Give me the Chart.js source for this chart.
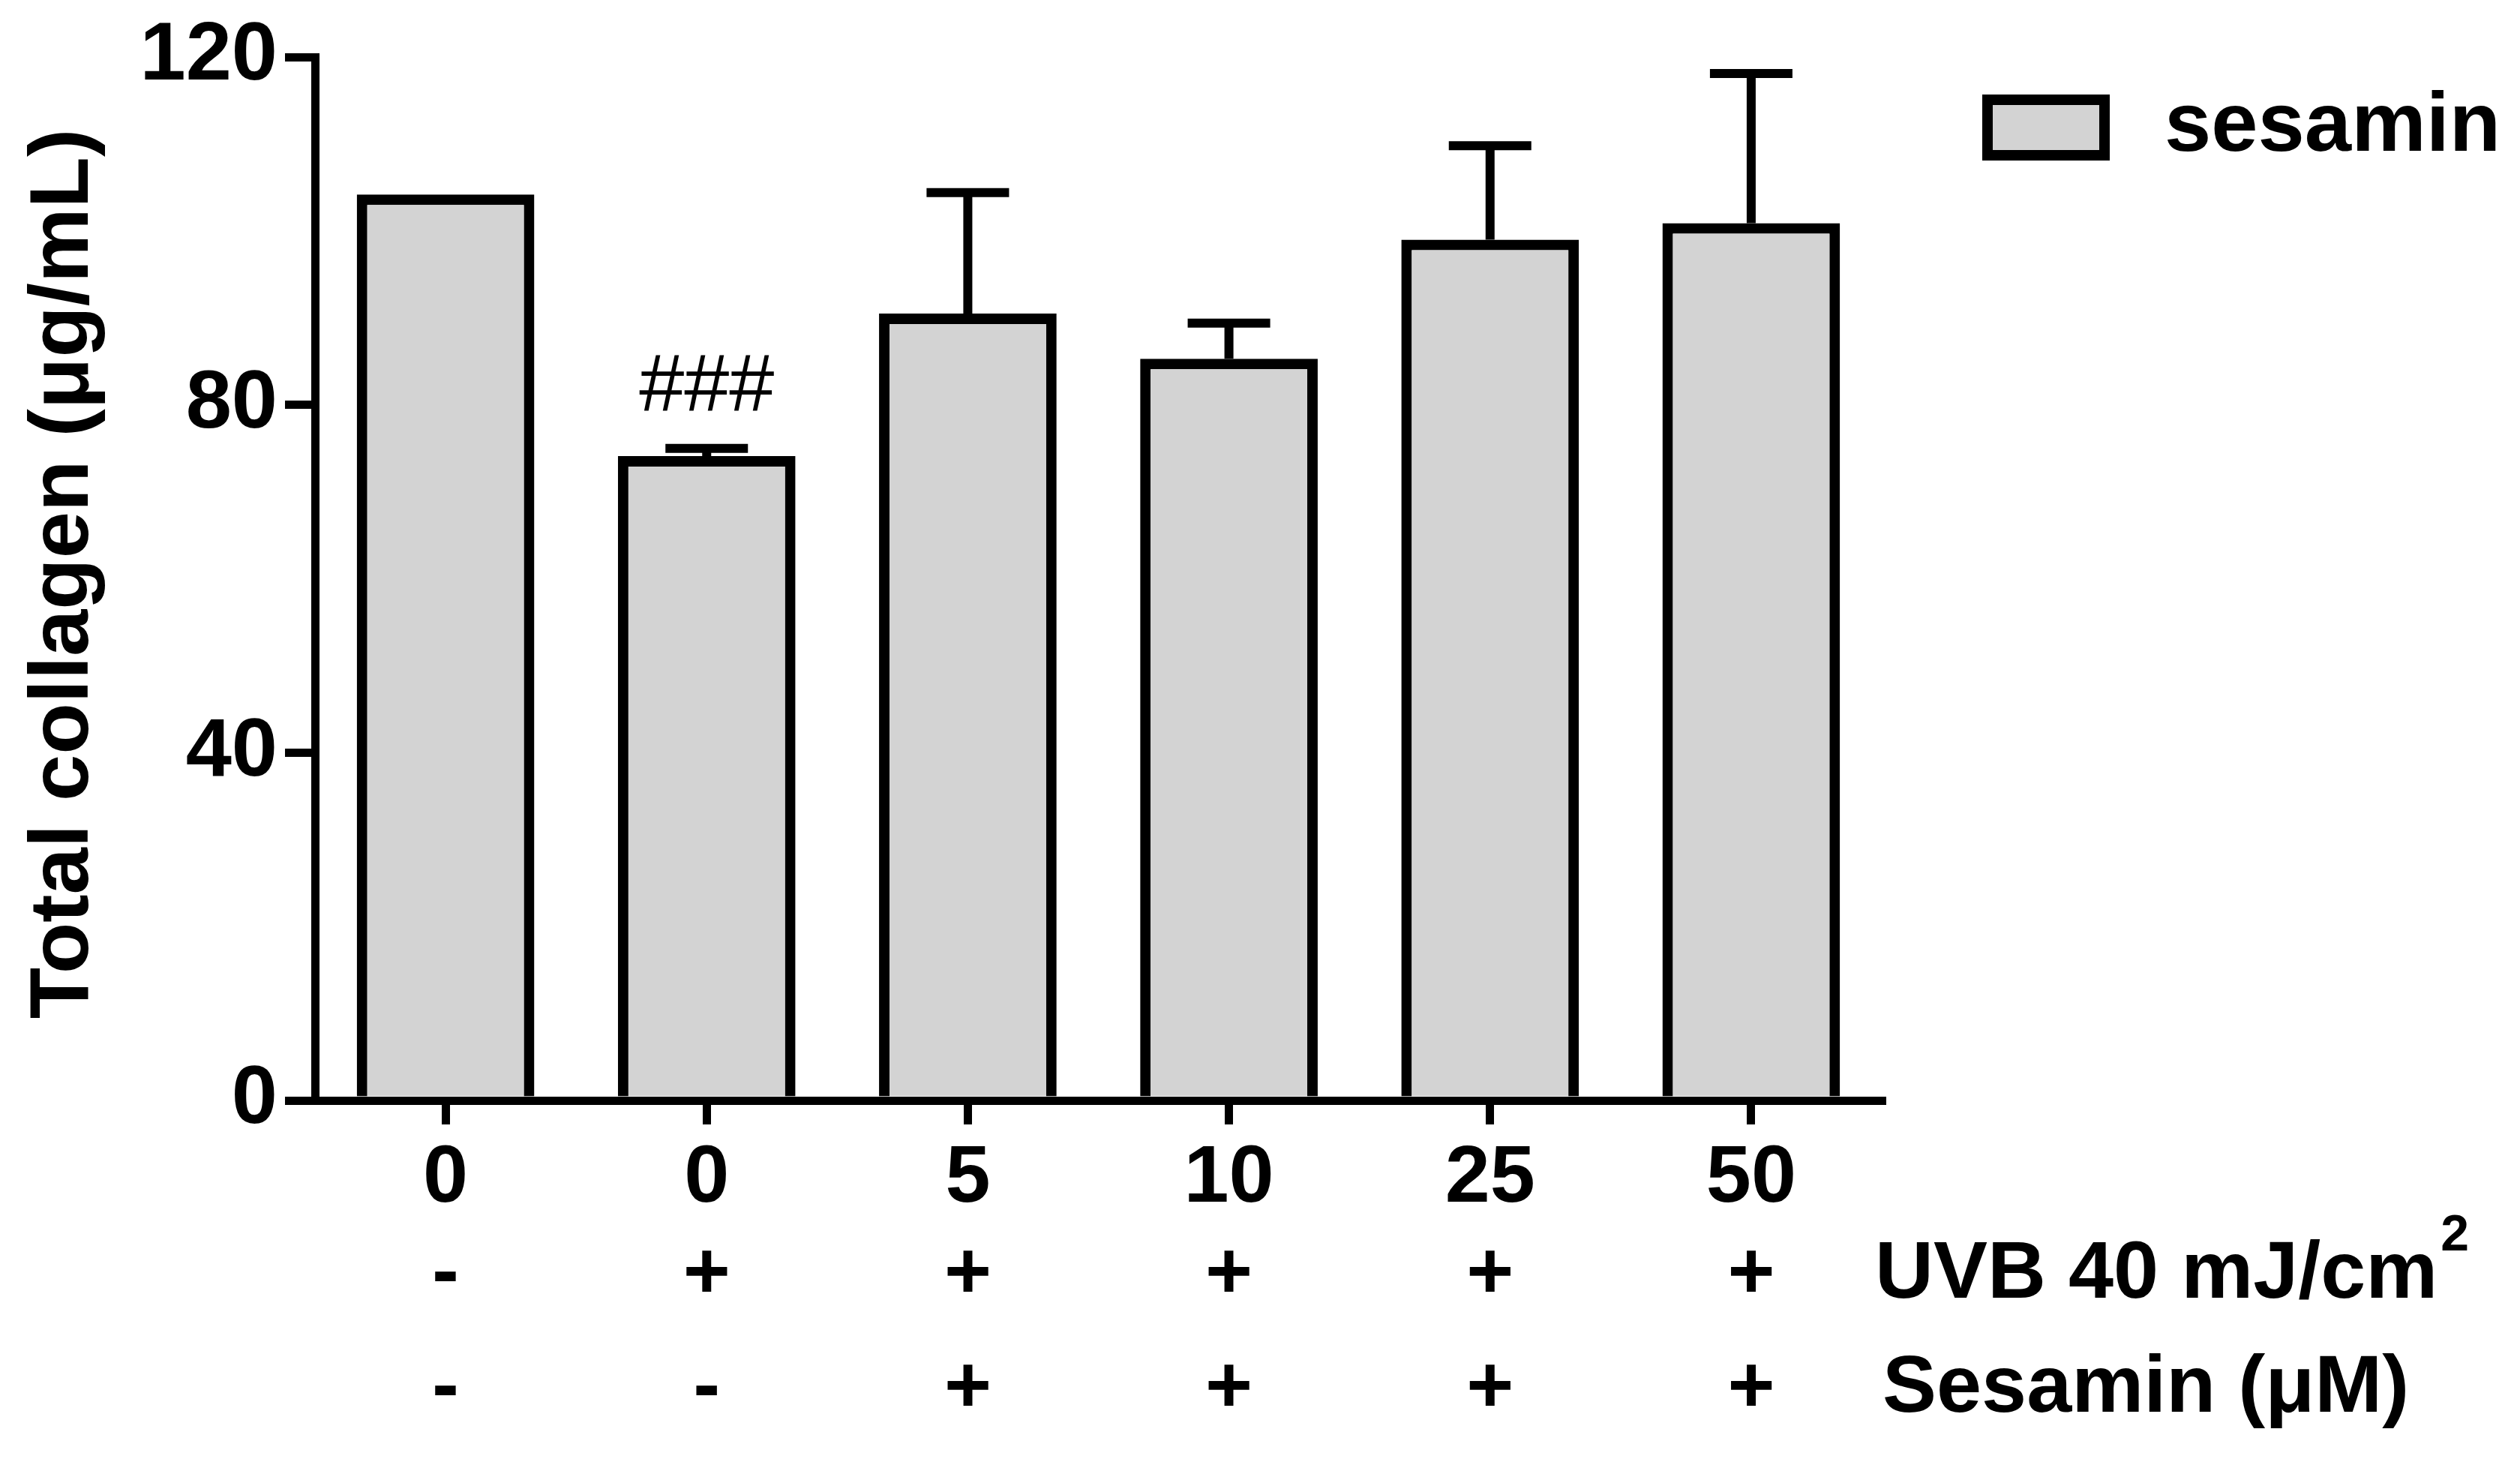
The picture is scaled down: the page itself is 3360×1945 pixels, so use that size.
<!DOCTYPE html>
<html><head><meta charset="utf-8">
<script src="https://cdn.jsdelivr.net/npm/chart.js@4"></script>
<style>html,body{margin:0;background:#fff}</style></head>
<body><canvas id="c" width="3360" height="1945"></canvas>
<script>
const categories = ['0','0','5','10','25','50'];
const uvbRow = ['-','+','+','+','+','+'];
const sesaminRow = ['-','-','+','+','+','+'];
const means = [104.2, 74.1, 90.5, 85.3, 99.0, 100.9];
const errors = [0, 0.9, 13.9, 4.1, 10.8, 17.2];
const yTicks = [0, 40, 80, 120];
const F = 'Liberation Sans, Arial, sans-serif';

const custom = {
  id: 'custom',
  afterDatasetsDraw(chart) {
    const ctx = chart.ctx, x = chart.scales.x, y = chart.scales.y;
    ctx.save();
    ctx.strokeStyle = '#000'; ctx.lineWidth = 12; ctx.lineCap = 'butt';
    means.forEach((m, i) => {
      if (!errors[i]) return;
      const cx = x.getPixelForValue(i), y0 = y.getPixelForValue(m), y1 = y.getPixelForValue(m + errors[i]);
      ctx.beginPath(); ctx.moveTo(cx, y0); ctx.lineTo(cx, y1);
      ctx.moveTo(cx - 55, y1); ctx.lineTo(cx + 55, y1); ctx.stroke();
    });
    ctx.fillStyle = '#000'; ctx.textAlign = 'center'; ctx.textBaseline = 'middle';
    ctx.font = 'bold 108px ' + F;
    categories.forEach((c, i) => {
      const cx = x.getPixelForValue(i);
      ctx.fillText(c, cx, 1572);
      ctx.fillText(uvbRow[i], cx, 1700);
      ctx.fillText(sesaminRow[i], cx, 1852);
    });
    ctx.textAlign = 'left';
    ctx.fillText('UVB 40 mJ/cm', 2500, 1700);
    const w = ctx.measureText('UVB 40 mJ/cm').width;
    ctx.font = 'bold 68px ' + F; ctx.fillText('2', 2500 + w + 4, 1648);
    ctx.font = 'bold 108px ' + F;
    ctx.fillText('Sesamin (μM)', 2510, 1852);
    ctx.font = '108px ' + F; ctx.textAlign = 'center';
    ctx.fillText('###', x.getPixelForValue(1), 517);
    // legend
    ctx.fillStyle = '#d3d3d3'; ctx.fillRect(2650, 133, 156, 74);
    ctx.lineWidth = 14; ctx.strokeRect(2650, 133, 156, 74);
    ctx.fillStyle = '#000'; ctx.textAlign = 'left'; ctx.font = 'bold 112px ' + F;
    ctx.fillText('sesamin', 2886, 170);
    // y title
    ctx.translate(86, 765); ctx.rotate(-Math.PI / 2); ctx.textAlign = 'center';
    ctx.font = 'bold 112px ' + F; ctx.fillText('Total collagen (μg/mL)', 0, 0);
    ctx.restore();
  }
};

new Chart(document.getElementById('c'), {
  type: 'bar',
  data: { labels: categories, datasets: [{ data: means, backgroundColor: '#d3d3d3', borderColor: '#000', borderWidth: 14, borderSkipped: 'bottom', barPercentage: 0.68, categoryPercentage: 1 }] },
  options: {
    responsive: false, animation: false, devicePixelRatio: 1,
    layout: { padding: { top: 75, right: 851, bottom: 0, left: 0 } },
    plugins: { legend: { display: false }, tooltip: { enabled: false } },
    scales: {
      x: { offset: true, afterFit(s) { s.height = 478; },
        grid: { offset: false, drawOnChartArea: false, drawTicks: true, tickLength: 32, color: '#000', lineWidth: 11 },
        border: { color: '#000', width: 11 }, ticks: { display: false } },
      y: { min: 0, max: 120, afterFit(s) { s.width = 420; },
        afterBuildTicks(s) { s.ticks = yTicks.map(v => ({ value: v })); },
        grid: { drawOnChartArea: false, drawTicks: true, tickLength: 40, color: '#000', lineWidth: 11 },
        border: { color: '#000', width: 11 },
        ticks: { color: '#000', padding: 10, font: { family: F, size: 110, weight: 'bold' } } }
    }
  },
  plugins: [custom]
});
</script></body></html>
